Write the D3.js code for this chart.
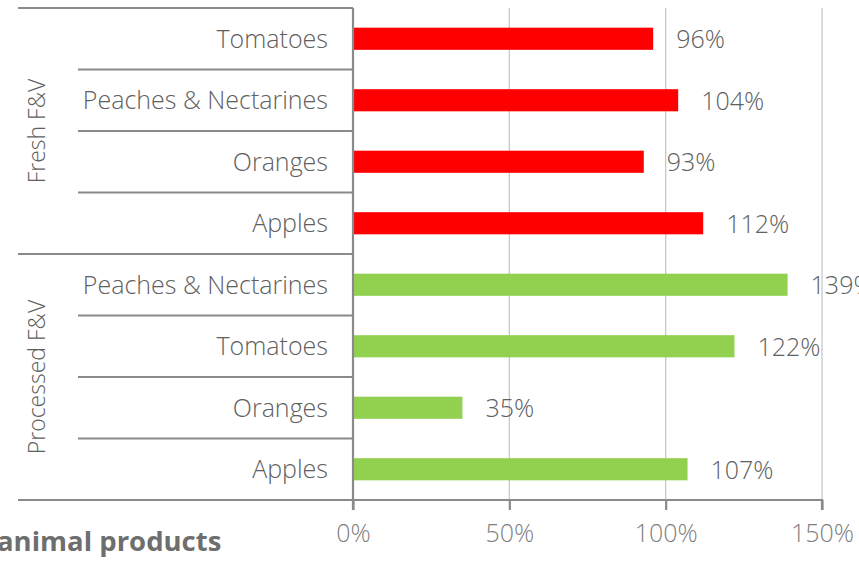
<!DOCTYPE html>
<html><head><meta charset="utf-8">
<script src="https://cdn.jsdelivr.net/npm/d3@7"></script>
<style>
body{margin:0;background:#fff;}
svg{display:block;}
text{font-family:"Open Sans",sans-serif;}
</style></head>
<body>
<svg id="c" width="859" height="563"></svg>
<script>
const groups = ["Fresh F&V", "Processed F&V"];
const fresh = ["Tomatoes", "Peaches & Nectarines", "Oranges", "Apples"];
const freshValues = [96, 104, 93, 112];
const processed = ["Peaches & Nectarines", "Tomatoes", "Oranges", "Apples"];
const processedValues = [139, 122, 35, 107];
const ticks = [0, 50, 100, 150];
const colors = ["#ff0000", "#92d050"];
const footer = "animal products";

const rows = [];
fresh.forEach((c,i)=>rows.push({g:0,cat:c,v:freshValues[i]}));
processed.forEach((c,i)=>rows.push({g:1,cat:c,v:processedValues[i]}));

const svg = d3.select("#c");
const pL = 353, pR = 822, pT = 8, pB = 500;
const x = d3.scaleLinear().domain([0,150]).range([pL,pR]);
const y = d3.scaleBand().domain(d3.range(rows.length)).range([pT,pB]).paddingInner(0.64).paddingOuter(0.32);
const yRow = d3.scaleBand().domain(d3.range(rows.length)).range([pT,pB]);

// gridlines
svg.append("g").selectAll("line").data(ticks.slice(1)).join("line")
  .attr("x1",d=>x(d)).attr("x2",d=>x(d)).attr("y1",pT).attr("y2",pB)
  .attr("stroke","#c8c8c8").attr("stroke-width",1.3);

// bars
svg.append("g").selectAll("rect").data(rows).join("rect")
  .attr("x",x(0)).attr("y",(d,i)=>y(i)).attr("width",d=>x(d.v)-x(0)).attr("height",y.bandwidth())
  .attr("fill",d=>colors[d.g]);

// value labels
svg.append("g").selectAll("text").data(rows).join("text")
  .attr("x",d=>x(d.v)+23).attr("y",(d,i)=>y(i)+y.bandwidth()/2).attr("dy","0.38em")
  .attr("font-size",25).attr("font-weight",300).attr("fill","#606060")
  .text(d=>d.v+"%");

// category labels
svg.append("g").selectAll("text").data(rows).join("text")
  .attr("x",328).attr("y",(d,i)=>yRow(i)+yRow.bandwidth()/2).attr("dy","0.36em")
  .attr("text-anchor","end").attr("font-size",25).attr("font-weight",300).attr("fill","#606060")
  .text(d=>d.cat);

// separators
const lineCol = "#8a8a8a";
const seps = d3.range(rows.length+1);
svg.append("g").selectAll("line").data(seps).join("line")
  .attr("x1",d=> (d%4===0)?18:78).attr("x2",pL)
  .attr("y1",d=> d===rows.length? pB : yRow(d)).attr("y2",d=> d===rows.length? pB : yRow(d))
  .attr("stroke",lineCol).attr("stroke-width",2.2);

// group labels
svg.append("g").selectAll("text").data(groups).join("text")
  .attr("transform",(d,i)=>`translate(37,${(yRow(i*4)+ (i===1?pB:yRow(4)))/2}) rotate(-90)`)
  .attr("dy","0.36em").attr("text-anchor","middle").attr("font-size",23).attr("font-weight",300).attr("fill","#606060")
  .text(d=>d);

// axes
const xAxis = d3.axisBottom(x).tickValues(ticks).tickFormat(d=>d+"%").tickSize(10).tickPadding(14);
const ax = svg.append("g").attr("transform",`translate(0,${pB})`).call(xAxis);
ax.select(".domain").attr("stroke",lineCol).attr("stroke-width",2.2).attr("d",`M${pL},10V0H${pR}V10`);
ax.selectAll(".tick line").attr("stroke",lineCol).attr("stroke-width",2.2);
ax.selectAll(".tick text").attr("font-size",25).attr("font-weight",300).attr("fill","#7f7f7f").attr("font-family","'Open Sans',sans-serif");

svg.append("line").attr("x1",pL).attr("x2",pL).attr("y1",pT).attr("y2",pB)
  .attr("stroke",lineCol).attr("stroke-width",2.2);

svg.append("text").attr("x",-3).attr("y",551).attr("font-size",27.5).attr("font-weight",700)
  .attr("fill","#6e6e6e").text(footer);
</script>
</body></html>
